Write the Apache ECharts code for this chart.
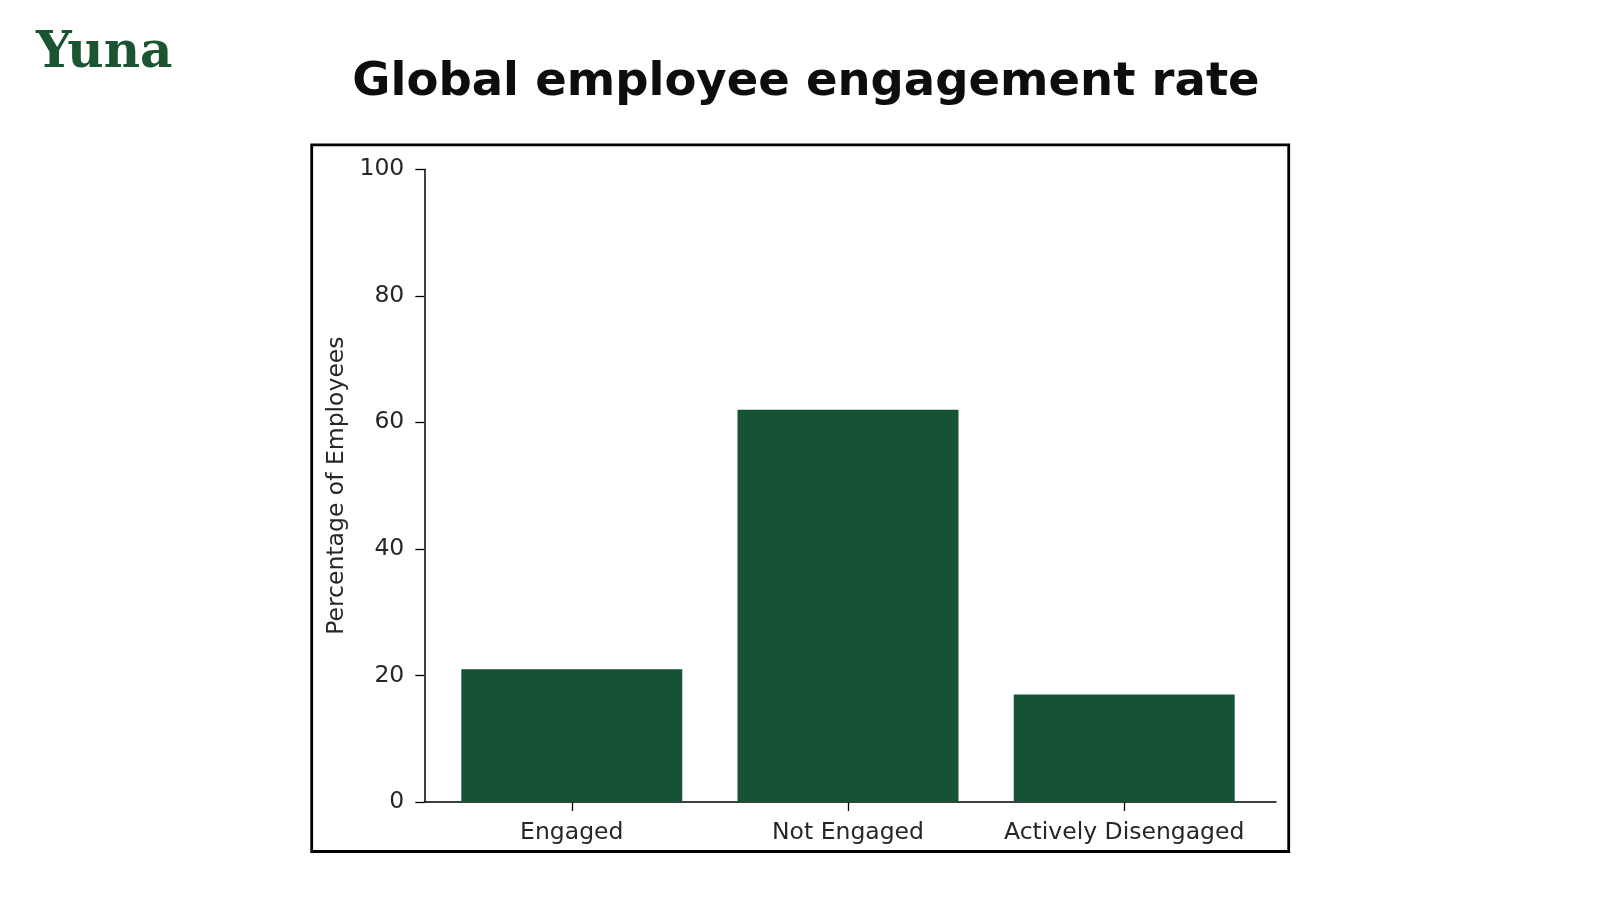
<!DOCTYPE html>
<html>
<head>
<meta charset="utf-8">
<script src="https://cdn.jsdelivr.net/npm/echarts@6/dist/echarts.min.js"></script>
<style>
html,body{margin:0;padding:0;background:#fff;}
#c{width:1600px;height:900px;}
</style>
</head>
<body>
<div id="c"></div>
<script>
const categories = ['Engaged', 'Not Engaged', 'Actively Disengaged'];
const values = [21, 62, 17];
const yTicks = [0, 20, 40, 60, 80, 100];

const chart = echarts.init(document.getElementById('c'));
const barColor = '#155334';
const tickFont = {fontFamily: 'DejaVu Sans', fontSize: 23.5, color: '#262626'};

chart.setOption({
  animation: false,
  backgroundColor: '#fff',
  title: {
    text: 'Global employee engagement rate',
    left: 801, top: 54, textAlign: 'center',
    textStyle: {fontFamily: 'DejaVu Sans', fontWeight: 'bold', fontSize: 46.5, color: '#0d0d0d'}
  },
  graphic: [
    {type: 'rect', shape: {x: 311.7, y: 144.9, width: 977, height: 706.6},
     style: {fill: 'none', stroke: '#000', lineWidth: 2.8}, z: 0},
    {type: 'text', left: 36, top: 29,
     style: {text: 'Yuna', font: 'bold 50px "DejaVu Serif"', fill: '#1b5430'}}
  ],
  grid: [
    {left: 424.3, top: 169.3, width: 851.7, height: 632.7, containLabel: false},
    {left: 433.7, top: 169.3, width: 828.6, height: 632.7, containLabel: false}
  ],
  xAxis: [
    {type: 'value', gridIndex: 0, min: 0, max: 1,
     axisLine: {show: true, lineStyle: {color: '#000', width: 1.5}},
     axisTick: {show: false}, axisLabel: {show: false}, splitLine: {show: false}},
    {type: 'category', gridIndex: 1, data: categories,
     axisLine: {show: false},
     axisTick: {show: true, alignWithLabel: true, interval: 0, length: 9, lineStyle: {color: '#000', width: 1.3}},
     axisLabel: Object.assign({margin: 19, interval: 0}, tickFont),
     splitLine: {show: false}}
  ],
  yAxis: [
    {type: 'value', gridIndex: 0, min: yTicks[0], max: yTicks[yTicks.length - 1], interval: 20,
     name: 'Percentage of Employees', nameLocation: 'middle', nameGap: 75, nameRotate: 90,
     nameTextStyle: {fontFamily: 'DejaVu Sans', fontSize: 23.5, color: '#262626'},
     axisLine: {show: true, lineStyle: {color: '#000', width: 1.5}},
     axisTick: {show: true, length: 9, lineStyle: {color: '#000', width: 1.3}},
     axisLabel: Object.assign({margin: 20, verticalAlign: 'middle', padding: [7, 0, 0, 0]}, tickFont),
     splitLine: {show: false}},
    {type: 'value', gridIndex: 1, min: 0, max: 100, show: false}
  ],
  series: [{
    type: 'bar', xAxisIndex: 1, yAxisIndex: 1,
    data: values, barCategoryGap: '20%',
    itemStyle: {color: barColor}
  }]
});
</script>
</body>
</html>
